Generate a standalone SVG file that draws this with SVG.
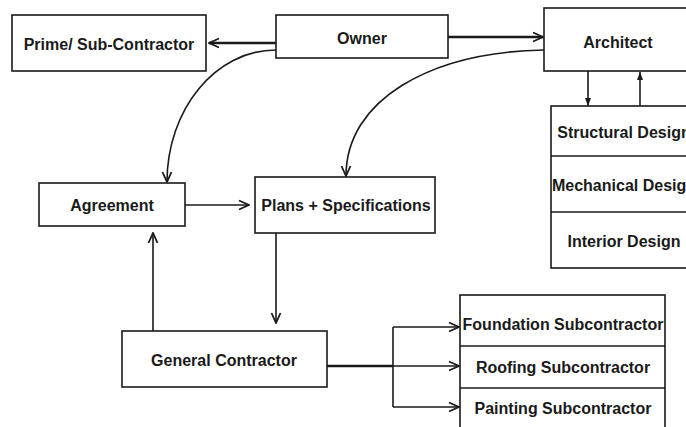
<svg xmlns="http://www.w3.org/2000/svg" width="686" height="427" viewBox="0 0 686 427">
<style>
.box{fill:#fff;stroke:#1a1a1a;stroke-width:1.6}
.t{font-family:"Liberation Sans",Arial,sans-serif;font-weight:bold;font-size:16px;fill:#1a1a1a;text-anchor:middle}
.c{fill:none;stroke:#1a1a1a;stroke-width:1.6}
.thick{fill:none;stroke:#1a1a1a;stroke-width:2.6}
</style>
<defs>
<marker id="open" viewBox="0 0 12 12" refX="11" refY="6" markerWidth="12" markerHeight="12" markerUnits="userSpaceOnUse" orient="auto">
<path d="M1,1.5 L11,6 L1,10.5" fill="none" stroke="#1a1a1a" stroke-width="1.8"/>
</marker>
<marker id="fill" viewBox="0 0 8 8" refX="8" refY="4" markerWidth="8" markerHeight="8" markerUnits="userSpaceOnUse" orient="auto">
<path d="M0,1 L8,4 L0,7 Z" fill="#1a1a1a"/>
</marker>
</defs>
<rect width="686" height="427" fill="#fff"/>
<g id="connectors">
<line class="thick" x1="276" y1="43" x2="209" y2="43" marker-end="url(#open)"/>
<line class="thick" x1="448" y1="37" x2="543" y2="37" marker-end="url(#open)"/>
<path class="c" d="M276,50 C215,50 167,110 167,182" marker-end="url(#open)"/>
<path class="c" d="M544,50 C430,52 346,100 346,176" marker-end="url(#open)"/>
<line class="c" x1="588" y1="71" x2="588" y2="106" marker-end="url(#fill)"/>
<line class="c" x1="640" y1="106" x2="640" y2="72" marker-end="url(#fill)"/>
<line class="c" x1="185" y1="205" x2="249" y2="205" marker-end="url(#open)"/>
<line class="c" x1="153" y1="331" x2="153" y2="233" marker-end="url(#open)"/>
<line class="c" x1="276" y1="233" x2="276" y2="323" marker-end="url(#open)"/>
<line class="thick" x1="327" y1="366" x2="393" y2="366"/>
<line class="c" x1="393" y1="327" x2="393" y2="407"/>
<line class="c" x1="393" y1="327" x2="459" y2="327" marker-end="url(#open)"/>
<line class="c" x1="393" y1="366" x2="459" y2="366" marker-end="url(#open)"/>
<line class="c" x1="393" y1="407" x2="459" y2="407" marker-end="url(#open)"/>
</g>
<g id="prime"><rect class="box" x="12" y="15" width="194" height="56"/><text class="t" x="109" y="50">Prime/ Sub-Contractor</text></g>
<g id="owner"><rect class="box" x="276" y="15" width="172" height="43"/><text class="t" x="362" y="44">Owner</text></g>
<g id="architect"><rect class="box" x="544" y="8" width="160" height="63"/><text class="t" x="618" y="48">Architect</text></g>
<g id="design-stack">
<rect class="box" x="551" y="106" width="146" height="162"/>
<line class="c" x1="551" y1="156" x2="697" y2="156"/>
<line class="c" x1="551" y1="212" x2="697" y2="212"/>
<text class="t" x="624" y="138">Structural Design</text>
<text class="t" x="624" y="191">Mechanical Design</text>
<text class="t" x="624" y="247">Interior Design</text>
</g>
<g id="agreement"><rect class="box" x="39" y="183" width="146" height="43"/><text class="t" x="112" y="211">Agreement</text></g>
<g id="plans"><rect class="box" x="255" y="177" width="180" height="56"/><text class="t" x="346" y="211">Plans + Specifications</text></g>
<g id="general-contractor"><rect class="box" x="122" y="331" width="205" height="56"/><text class="t" x="224" y="366">General Contractor</text></g>
<g id="subcontractors">
<rect class="box" x="460" y="295" width="205" height="145"/>
<line class="c" x1="460" y1="346" x2="665" y2="346"/>
<line class="c" x1="460" y1="388" x2="665" y2="388"/>
<text class="t" x="563" y="330">Foundation Subcontractor</text>
<text class="t" x="563" y="373">Roofing Subcontractor</text>
<text class="t" x="563" y="414">Painting Subcontractor</text>
</g>
</svg>
